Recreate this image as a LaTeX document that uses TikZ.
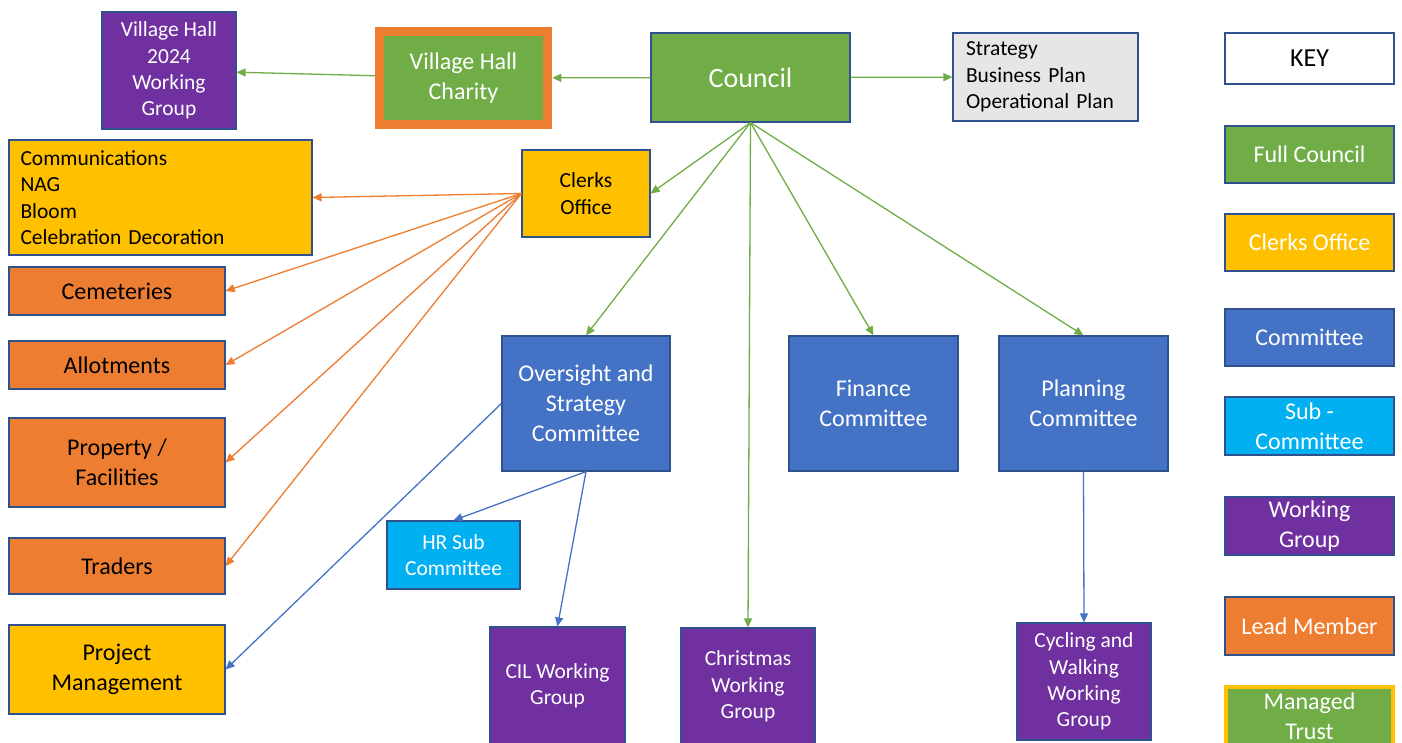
\documentclass[tikz,border=0pt]{standalone}
\usepackage{fontspec}
\setmainfont{Carlito}
\usetikzlibrary{arrows.meta}

\definecolor{cgreen}{HTML}{70AD47}
\definecolor{cyellow}{HTML}{FFC000}
\definecolor{corange}{HTML}{ED7D31}
\definecolor{cblue}{HTML}{4472C4}
\definecolor{ccyan}{HTML}{00B0F0}
\definecolor{cpurple}{HTML}{7030A0}
\definecolor{cgrey}{HTML}{E7E6E6}
\definecolor{cedge}{HTML}{2F528F}

\begin{document}
\begin{tikzpicture}[x = 1pt, y = -1pt,
    box/.style = {draw = cedge, line width = 1.2pt, inner sep = 0pt, align = center, text = white},
    sz/.style 2 args = {minimum width = #1, minimum height = #2},
    big/.style = {font = \fontsize{24}{30}\selectfont},
    small/.style = {font = \fontsize{21.5}{26.3}\selectfont},
    a/.style = {-{Triangle[length = 9pt, width = 8pt]}, line width = 1.3pt}]
      \clip (0, 0) rectangle (1402, 743);
      \fill [white] (0, 0) rectangle (1402, 743);

      \node [box, small, fill = cpurple, sz = {134}{117}] (vh) at (169, 70.5) {Village Hall\\2024\\Working\\Group};
      \node [box, big, draw = corange, line width = 9pt, fill = cgreen, sz = {168.5}{93}] (charity) at (463.5, 78) {Village Hall\\Charity};
      \node [box, fill = cgreen, sz = {199}{89}, font = \fontsize{28}{34}\selectfont] (council) at (750.5, 77.5) {Council};
      \node [box, small, fill = cgrey, text = black, sz = {185}{88}, align = left, text width = 159] (plans) at (1045.5, 77) {Strategy\\Business Plan\\Operational Plan};

      \node [box, small, fill = cyellow, text = black, sz = {303}{115}, align = left, text width = 280] (comms) at (160.5, 197.5) {Communications\\NAG\\Bloom\\Celebration Decoration};
      \node [box, small, fill = cyellow, text = black, sz = {128}{87}] (clerks) at (586, 193.5) {Clerks\\Office};

      \node [box, big, fill = corange, text = black, sz = {216}{48}] (cem) at (117, 291) {Cemeteries};
      \node [box, big, fill = corange, text = black, sz = {216}{48}] (allot) at (117, 365) {Allotments};
      \node [box, big, fill = corange, text = black, sz = {216}{89}] (prop) at (117, 462.5) {Property /\\Facilities};
      \node [box, big, fill = corange, text = black, sz = {216}{56}] (traders) at (117, 566) {Traders};
      \node [box, big, fill = cyellow, text = black, sz = {216}{89}] (pm) at (117, 669.5) {Project\\Management};

      \node [box, big, fill = cblue, sz = {168}{135}] (oversight) at (586, 403.5) {Oversight and\\Strategy\\Committee};
      \node [box, big, fill = cblue, sz = {169}{135}] (finance) at (873.5, 403.5) {Finance\\Committee};
      \node [box, big, fill = cblue, sz = {169}{135}] (planning) at (1083.5, 403.5) {Planning\\Committee};

      \node [box, small, fill = ccyan, sz = {133}{68}] (hr) at (453.5, 555) {HR Sub\\Committee};
      \node [box, small, fill = cpurple, sz = {135}{118}] (cil) at (557.5, 686) {CIL Working\\Group};
      \node [box, small, fill = cpurple, sz = {134}{117}] (xmas) at (748, 686.5) {Christmas\\Working\\Group};
      \node [box, small, fill = cpurple, sz = {134}{117}] (cycle) at (1084, 681.5) {Cycling and\\Walking\\Working\\Group};

      \node [box, fill = white, text = black, sz = {169}{51}, font = \fontsize{26}{30}\selectfont] (key) at (1309.5, 58.5) {KEY};
      \node [box, big, fill = cgreen, sz = {169}{57}] (kfull) at (1309.5, 154.5) {Full Council};
      \node [box, big, fill = cyellow, sz = {169}{57}] (kclerks) at (1309.5, 242.5) {Clerks Office};
      \node [box, big, fill = cblue, sz = {169}{57}] (kcomm) at (1309.5, 337.5) {Committee};
      \node [box, big, fill = ccyan, sz = {169}{58}] (ksub) at (1309.5, 426) {Sub -\\Committee};
      \node [box, big, fill = cpurple, sz = {169}{58}] (kwork) at (1309.5, 526) {Working\\Group};
      \node [box, big, fill = corange, sz = {169}{58}] (klead) at (1309.5, 626) {Lead Member};
      \node [box, big, draw = cyellow, line width = 4pt, fill = cgreen, sz = {167}{58}] (ktrust) at (1309.5, 716) {Managed\\Trust};

      \draw [a, cgreen] (council) -- (charity);
      \draw [a, cgreen] (charity) -- (vh);
      \draw [a, cgreen] (council) -- (plans);
      \draw [a, cgreen] (council.south) -- (clerks.east);
      \foreach \n in {oversight, xmas, finance, planning} {
        \draw [a, cgreen] (council.south) -- (\n.north);
      }

      \foreach \n in {comms, cem, allot, prop, traders} {
        \draw [a, corange] (clerks.west) -- (\n.east);
      }

      \draw [a, cblue] (oversight.west) -- (pm.east);
      \draw [a, cblue] (oversight.south) -- (hr.north);
      \draw [a, cblue] (oversight.south) -- (cil.north);
      \draw [a, cblue] (planning.south) -- (cycle.north);
    \end{tikzpicture}
\end{document}
